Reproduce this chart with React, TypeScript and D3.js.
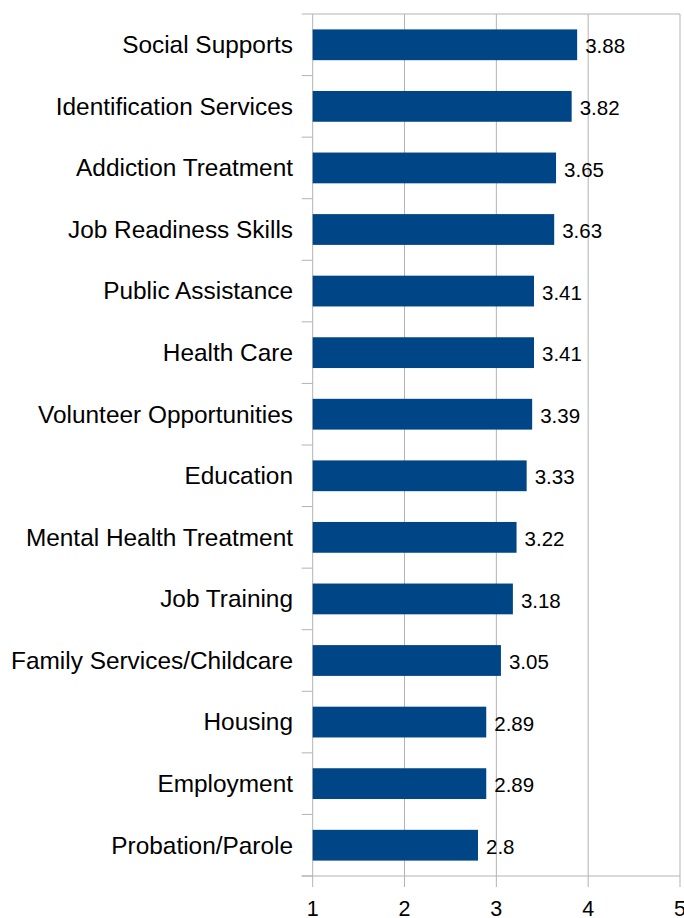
import React from "react";
import * as d3 from "d3";

const categories = [
  "Social Supports",
  "Identification Services",
  "Addiction Treatment",
  "Job Readiness Skills",
  "Public Assistance",
  "Health Care",
  "Volunteer Opportunities",
  "Education",
  "Mental Health Treatment",
  "Job Training",
  "Family Services/Childcare",
  "Housing",
  "Employment",
  "Probation/Parole",
];
const values = [3.88, 3.82, 3.65, 3.63, 3.41, 3.41, 3.39, 3.33, 3.22, 3.18, 3.05, 2.89, 2.89, 2.8];
const valueLabels = ["3.88", "3.82", "3.65", "3.63", "3.41", "3.41", "3.39", "3.33", "3.22", "3.18", "3.05", "2.89", "2.89", "2.8"];
const xTicks = [1, 2, 3, 4, 5];

export default function App() {
  const W = 684, H = 918;
  const left = 312.7, right = 680, top = 14, bottom = 876;
  const x = d3.scaleLinear().domain([1, 5]).range([left, right]);
  const y = d3.scaleBand().domain(categories).range([top, bottom]).paddingInner(0.5).paddingOuter(0.25);
  const yb = d3.scaleBand().domain(categories).range([top, bottom]);
  const grid = "#b3b3b3";
  const font = "'Liberation Sans', Arial, sans-serif";
  return (
    <svg width={W} height={H} style={{ position: "absolute", left: 0, top: 0, background: "#fff" }}>
      {xTicks.map((t) => (
        <line key={"g" + t} x1={x(t)} x2={x(t)} y1={top} y2={bottom + 11} stroke={grid} strokeWidth={1} />
      ))}
      <line x1={left - 11} x2={right} y1={top} y2={top} stroke={grid} />
      <line x1={left - 11} x2={right} y1={bottom} y2={bottom} stroke={grid} />
      {categories.map((c) => (
        <line key={"t" + c} x1={left - 11} x2={left} y1={(yb(c) as number) + yb.bandwidth()} y2={(yb(c) as number) + yb.bandwidth()} stroke={grid} />
      ))}
      {categories.map((c, i) => (
        <g key={c}>
          <rect x={x(1)} y={y(c)} width={x(values[i]) - x(1)} height={y.bandwidth()} fill="#004586" />
          <text x={x(values[i]) + 8} y={(y(c) as number) + y.bandwidth() / 2 + 8.6} fontSize={20.5} fontFamily={font} fill="#000">
            {valueLabels[i]}
          </text>
          <text x={293} y={(y(c) as number) + y.bandwidth() / 2 + 8.3} textAnchor="end" fontSize={24.4} fontFamily={font} fill="#000">
            {c}
          </text>
        </g>
      ))}
      {xTicks.map((t) => (
        <text key={"l" + t} x={x(t)} y={916} textAnchor="middle" fontSize={21.5} fontFamily={font} fill="#000">
          {t}
        </text>
      ))}
    </svg>
  );
}
